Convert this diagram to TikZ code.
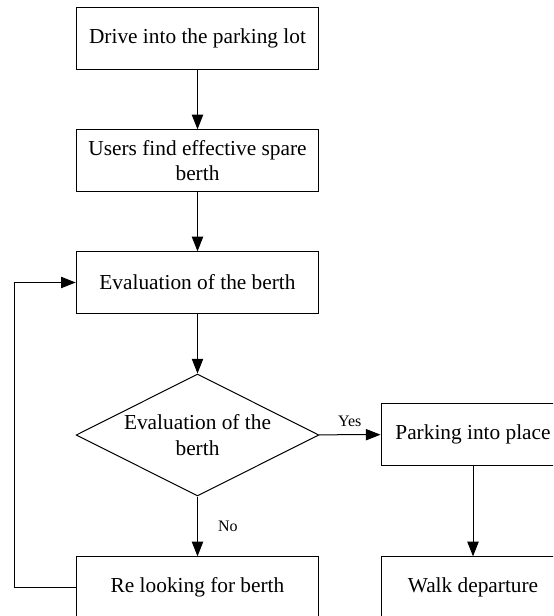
\documentclass[tikz,border=0pt]{standalone}
\usepackage{fontspec}
\setmainfont{Liberation Serif}
\usetikzlibrary{arrows.meta,shapes.geometric}

\begin{document}
\begin{tikzpicture}[x=0.75pt,y=-0.75pt]
\tikzset{
  stepbox/.style={rectangle,draw,line width=0.75pt,minimum width=182pt,minimum height=46pt,
    inner sep=2pt,align=center,font=\fontsize{16}{19}\selectfont},
  sidebox/.style={stepbox,minimum width=138pt},
  decision/.style={diamond,draw,line width=0.75pt,aspect=2,minimum width=182pt,minimum height=91.5pt,
    inner sep=-6pt,align=center,font=\fontsize{16}{19}\selectfont},
  flow/.style={-{Triangle[length=11pt,width=8.5pt]},line width=0.75pt},
  edgelabel/.style={font=\fontsize{12}{14}\selectfont,inner sep=1pt}
}
\useasboundingbox (0,0) rectangle (553,616);
\clip (0,0) rectangle (553,616);
\node[stepbox] (n_drive) at (197.5,38.5) {Drive into the parking lot};
\node[stepbox] (n_find) at (197.5,160.5) {Users find effective spare\\berth};
\node[stepbox] (n_eval) at (197.5,282.5) {Evaluation of the berth};
\node[decision] (n_check) at (197.5,435) {Evaluation of the\\berth};
\node[sidebox] (n_park) at (473,434.5) {Parking into place};
\node[stepbox] (n_relook) at (197.5,587.5) {Re looking for berth};
\node[sidebox] (n_walk) at (473,587.5) {Walk departure};
\coordinate (c_loop_low) at (14,587.5);
\coordinate (c_loop_high) at (14,282.5);
\draw[flow] (n_drive) -- (n_find);
\draw[flow] (n_find) -- (n_eval);
\draw[flow] (n_eval) -- (n_check);
\draw[flow] (n_check) -- node[edgelabel,above,pos=0.5,yshift=5pt] {Yes} (n_park);
\draw[flow] (n_check) -- node[edgelabel,right,xshift=14pt,pos=0.5] {No} (n_relook);
\draw[flow] (n_park) -- (n_walk);
\draw[flow] (n_relook.west) -- (c_loop_low) -- (c_loop_high) -- (n_eval.west);
\end{tikzpicture}
\end{document}
